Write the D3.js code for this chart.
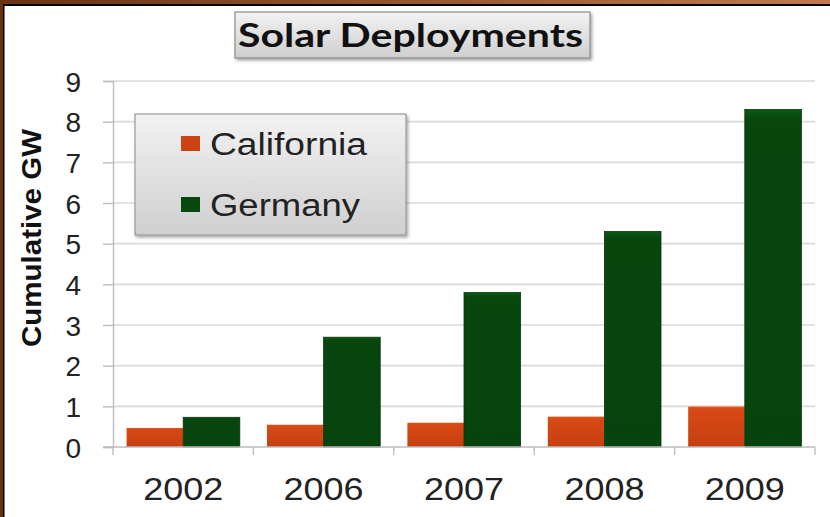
<!DOCTYPE html>
<html>
<head>
<meta charset="utf-8">
<script src="https://cdn.jsdelivr.net/npm/d3@7"></script>
<style>
  html, body { margin: 0; padding: 0; background: #fff; }
  svg { display: block; }
</style>
</head>
<body>
<svg id="chart" width="830" height="517"></svg>
<script>
// values
let years = ["2002", "2006", "2007", "2008", "2009"];
let series = ["California", "Germany"];
let california = [0.47, 0.55, 0.6, 0.75, 1.0];
let germany = [0.73, 2.7, 3.8, 5.3, 8.3];
let yTicks = [0, 1, 2, 3, 4, 5, 6, 7, 8, 9];
let colors = {California: "#cd4212", Germany: "#07470e"};

let W = 830, H = 517;
let plot = {left: 113, right: 815, top: 81, bottom: 447};

let svg = d3.select("#chart");
let defs = svg.append("defs");

function vGrad(id, stops) {
  let g = defs.append("linearGradient").attr("id", id)
    .attr("x1", 0).attr("y1", 0).attr("x2", 0).attr("y2", 1);
  stops.forEach(s => g.append("stop").attr("offset", s[0]).attr("stop-color", s[1]));
}
vGrad("boxGrad", [[0, "#f2f2f2"], [1, "#cfcfcf"]]);
vGrad("orangeGrad", [[0, "#f07a45"], [0.04, "#d84a16"], [1, "#c63e10"]]);
vGrad("greenGrad", [[0, "#0b5a14"], [0.03, "#07470e"], [1, "#06440d"]]);
let topGrad = defs.append("linearGradient").attr("id", "topGrad");
topGrad.append("stop").attr("offset", 0).attr("stop-color", "#6a3312");
topGrad.append("stop").attr("offset", 1).attr("stop-color", "#c27a4c");
let shadow = defs.append("filter").attr("id", "shadow")
  .attr("x", "-10%").attr("y", "-10%").attr("width", "130%").attr("height", "140%");
shadow.append("feDropShadow").attr("dx", 1.5).attr("dy", 2).attr("stdDeviation", 1.5)
  .attr("flood-color", "#000").attr("flood-opacity", 0.35);

// frame
svg.append("rect").attr("x", 0).attr("y", 0).attr("width", W).attr("height", 4).attr("fill", "url(#topGrad)");
svg.append("rect").attr("x", 0).attr("y", 4).attr("width", W).attr("height", 2).attr("fill", "#000");
svg.append("rect").attr("x", 0).attr("y", 0).attr("width", 3).attr("height", H).attr("fill", "#6a3312");
svg.append("rect").attr("x", 3).attr("y", 4).attr("width", 1.5).attr("height", H).attr("fill", "#000");

let x = d3.scaleBand().domain(years).range([plot.left, plot.right]);
let xs = d3.scaleBand().domain(series).range([0, x.bandwidth()]).paddingOuter(0.24);
let y = d3.scaleLinear().domain([0, 9]).range([plot.bottom, plot.top]);

// gridlines
svg.append("g").selectAll("line").data(yTicks.filter(d => d > 0)).join("line")
  .attr("x1", plot.left).attr("x2", plot.right)
  .attr("y1", d => y(d)).attr("y2", d => y(d))
  .attr("stroke", "#d9d9d9").attr("stroke-width", 1.6);

// y axis
let yAxis = svg.append("g").attr("transform", `translate(${plot.left},0)`)
  .call(d3.axisLeft(y).tickValues(yTicks).tickSize(10).tickPadding(22).tickFormat(d3.format("d")));
yAxis.select(".domain").attr("stroke", "#bdbdbd").attr("stroke-width", 1.4);
yAxis.selectAll(".tick line").attr("stroke", "#bdbdbd").attr("stroke-width", 1.4);
yAxis.selectAll("text").attr("font-family", "Liberation Sans, Arial, sans-serif")
  .attr("font-size", 28).attr("fill", "#222").attr("dy", "0.36em");

// bars
let rows = years.map((yr, i) => ({year: yr, California: california[i], Germany: germany[i]}));
let groups = svg.append("g").selectAll("g").data(rows).join("g")
  .attr("transform", d => `translate(${x(d.year)},0)`);
groups.selectAll("rect").data(d => series.map(s => ({key: s, value: d[s]}))).join("rect")
  .attr("x", d => xs(d.key)).attr("width", xs.bandwidth())
  .attr("y", d => y(d.value)).attr("height", d => y(0) - y(d.value))
  .attr("fill", d => d.key === "California" ? "url(#orangeGrad)" : "url(#greenGrad)")
  .attr("stroke", d => d.key === "Germany" ? "#0a330c" : "none")
  .attr("stroke-width", 0.8);

// x axis
let xAxis = svg.append("g").attr("transform", `translate(0,${plot.bottom})`)
  .call(d3.axisBottom(x).tickSize(0).tickPadding(30));
xAxis.select(".domain").remove();
svg.append("line").attr("x1", plot.left - 10).attr("x2", plot.right)
  .attr("y1", plot.bottom).attr("y2", plot.bottom)
  .attr("stroke", "#bdbdbd").attr("stroke-width", 1.4);
let bounds = years.map(d => x(d)).concat([plot.right]);
svg.append("g").selectAll("line").data(bounds).join("line")
  .attr("x1", d => d).attr("x2", d => d)
  .attr("y1", plot.bottom).attr("y2", plot.bottom + 8)
  .attr("stroke", "#bdbdbd").attr("stroke-width", 1.4);
xAxis.selectAll("text").attr("font-family", "Liberation Sans, Arial, sans-serif")
  .attr("font-size", 32).attr("fill", "#222")
  .attr("textLength", 80).attr("lengthAdjust", "spacingAndGlyphs");

// y axis title
svg.append("text")
  .attr("transform", "translate(41,238) rotate(-90)")
  .attr("text-anchor", "middle")
  .attr("font-family", "Liberation Sans, Arial, sans-serif")
  .attr("font-weight", "bold").attr("font-size", 27).attr("fill", "#111")
  .attr("textLength", 218).attr("lengthAdjust", "spacingAndGlyphs")
  .text("Cumulative GW");

// title box
svg.append("rect").attr("x", 235).attr("y", 12).attr("width", 355).attr("height", 46)
  .attr("fill", "url(#boxGrad)").attr("stroke", "#8a8a8a").attr("stroke-width", 1.2)
  .attr("filter", "url(#shadow)");
svg.append("text").attr("x", 238).attr("y", 47)
  .attr("font-family", "Lato, Open Sans, sans-serif").attr("font-weight", "bold")
  .attr("font-size", 33).attr("fill", "#111")
  .attr("textLength", 345).attr("lengthAdjust", "spacingAndGlyphs")
  .text("Solar Deployments");

// legend
let legend = svg.append("g");
legend.append("rect").attr("x", 135).attr("y", 114).attr("width", 271).attr("height", 121)
  .attr("fill", "url(#boxGrad)").attr("stroke", "#999").attr("stroke-width", 1.2)
  .attr("filter", "url(#shadow)");
let legendY = d3.scalePoint().domain(series).range([144, 205]);
let items = legend.selectAll("g.item").data(series).join("g").attr("class", "item")
  .attr("transform", d => `translate(0,${legendY(d)})`);
items.append("rect").attr("x", 181).attr("y", -8).attr("width", 19).attr("height", 15)
  .attr("fill", d => colors[d]);
items.append("text").attr("x", 210).attr("y", 11)
  .attr("font-family", "Liberation Sans, Arial, sans-serif")
  .attr("font-size", 31).attr("fill", "#222")
  .attr("textLength", d => d === "California" ? 157 : 150)
  .attr("lengthAdjust", "spacingAndGlyphs")
  .text(d => d);
</script>
</body>
</html>
